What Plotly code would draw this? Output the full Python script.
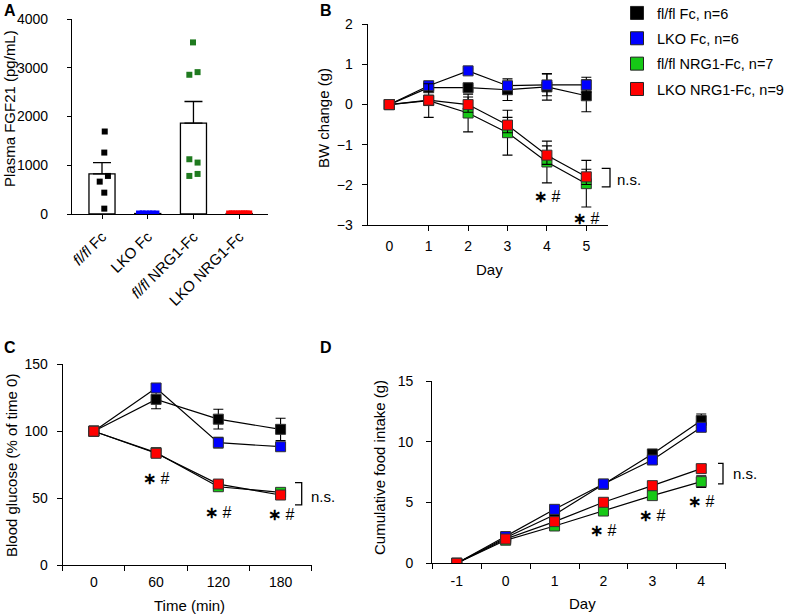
import plotly.graph_objects as go

W, H = 791, 615
FONT = "Liberation Sans, Arial, sans-serif"

# ---------------- Panel A data ----------------
a_groups = ["<i>fl/fl</i> Fc", "LKO Fc", "<i>fl/fl</i> NRG1-Fc", "LKO NRG1-Fc"]
a_means = [822, 10, 1863, 10]
a_sem = [233, 0, 445, 0]
a_flfl_fc = [1692, 1260, 781, 664, 438, 110]
a_lko_fc = [10, 12, 8, 11, 9, 10]
a_flfl_nrg = [3520, 2910, 2856, 1123, 1055, 822, 781]
a_lko_nrg = [10, 12, 8, 11, 9, 10, 12, 9, 11]
# horizontal scatter offsets of the dots (category units)
a_off_flfl_fc = [0.06, 0.05, 0.13, -0.05, 0.05, 0.05]
a_off_lko_fc = [-0.19, -0.11, -0.04, 0.04, 0.11, 0.19]
a_off_flfl_nrg = [-0.01, 0.09, -0.09, -0.09, 0.09, 0.09, -0.09]
a_off_lko_nrg = [-0.22, -0.165, -0.11, -0.055, 0.0, 0.055, 0.11, 0.165, 0.22]

# ---------------- Panel B data ----------------
b_days = [0, 1, 2, 3, 4, 5]
b_flfl_fc = [0, 0.42, 0.42, 0.37, 0.44, 0.22]
b_flfl_fc_err = [0, 0.05, 0.05, 0.27, 0.33, 0.40]
b_lko_fc = [0, 0.47, 0.84, 0.47, 0.49, 0.49]
b_lko_fc_err = [0, 0.05, 0.05, 0.10, 0.27, 0.19]
b_flfl_nrg = [0, 0.10, -0.21, -0.70, -1.43, -1.97]
b_flfl_nrg_err = [0, 0.42, 0.47, 0.56, 0.52, 0.58]
b_lko_nrg = [0, 0.11, 0.0, -0.51, -1.26, -1.80]
b_lko_nrg_err = [0, 0.12, 0.19, 0.19, 0.23, 0.19]

# ---------------- Panel C data ----------------
c_time = ["0", "60", "120", "180"]
c_flfl_fc = [100, 123.8, 109, 101.4]
c_flfl_fc_err = [0, 7, 7.4, 8.3]
c_lko_fc = [100, 132.3, 91.4, 88.4]
c_lko_fc_err = [0, 3, 4, 2]
c_flfl_nrg = [100, 84, 58.5, 54.3]
c_flfl_nrg_err = [0, 2, 2.5, 2]
c_lko_nrg = [100, 83.5, 60.5, 52.3]
c_lko_nrg_err = [0, 2.5, 2.5, 2]

# ---------------- Panel D data ----------------
d_day = ["-1", "0", "1", "2", "3", "4"]
d_flfl_fc = [0, 2.1, 4.0, 6.5, 9.0, 11.74]
d_flfl_fc_err = [0, 0.2, 0.2, 0.2, 0.3, 0.55]
d_lko_fc = [0, 2.2, 4.44, 6.53, 8.5, 11.19]
d_lko_fc_err = [0, 0.2, 0.2, 0.2, 0.3, 0.3]
d_flfl_nrg = [0, 1.9, 3.07, 4.3, 5.57, 6.72]
d_flfl_nrg_err = [0, 0.1, 0.2, 0.2, 0.3, 0.47]
d_lko_nrg = [0, 2.0, 3.43, 5.02, 6.39, 7.79]
d_lko_nrg_err = [0, 0.1, 0.2, 0.2, 0.3, 0.3]

legend_names = ["fl/fl Fc, n=6", "LKO Fc, n=6", "fl/fl NRG1-Fc, n=7", "LKO NRG1-Fc, n=9"]
colors = ["#000000", "#0000ff", "#16c816", "#ff0000"]
a_colors = ["#000000", "#0000ff", "#1f7a1f", "#ff0000"]


def px_x(p):
    return p / W


def px_y(p):
    return 1 - p / H


fig = go.Figure()

# ---- Panel A ----
idx = list(range(len(a_groups)))
fig.add_trace(go.Bar(
    x=idx, y=a_means, width=0.57,
    marker=dict(color="white", line=dict(color="black", width=1.3)),
    error_y=dict(type="data", array=a_sem, arrayminus=[0] * 4, symmetric=False,
                 color="black", thickness=1.3, width=9),
    xaxis="x", yaxis="y", showlegend=False))
a_sets = [(a_flfl_fc, a_off_flfl_fc), (a_lko_fc, a_off_lko_fc),
          (a_flfl_nrg, a_off_flfl_nrg), (a_lko_nrg, a_off_lko_nrg)]
for i, (vals, offs) in enumerate(a_sets):
    fig.add_trace(go.Scatter(
        x=[i + o for o in offs], y=vals, mode="markers",
        marker=dict(symbol="square", size=6, color=a_colors[i]),
        xaxis="x", yaxis="y", showlegend=False))

# ---- Line panels ----
def add_panel(xs, series, errs, xa, ya):
    for s, e, c in zip(series, errs, colors):
        fig.add_trace(go.Scatter(
            x=xs, y=s, mode="lines+markers",
            line=dict(color="black", width=1.2),
            marker=dict(symbol="square", size=10, color=c, line=dict(color="#333333", width=1)),
            error_y=dict(type="data", array=e, color="black", thickness=1.1, width=5),
            xaxis=xa, yaxis=ya, showlegend=False))


add_panel(b_days, [b_flfl_fc, b_lko_fc, b_flfl_nrg, b_lko_nrg],
          [b_flfl_fc_err, b_lko_fc_err, b_flfl_nrg_err, b_lko_nrg_err], "x2", "y2")
add_panel(c_time, [c_flfl_fc, c_lko_fc, c_flfl_nrg, c_lko_nrg],
          [c_flfl_fc_err, c_lko_fc_err, c_flfl_nrg_err, c_lko_nrg_err], "x3", "y3")
add_panel(d_day, [d_flfl_fc, d_lko_fc, d_flfl_nrg, d_lko_nrg],
          [d_flfl_fc_err, d_lko_fc_err, d_flfl_nrg_err, d_lko_nrg_err], "x4", "y4")

# legend entries
for name, c in zip(legend_names, colors):
    fig.add_trace(go.Scatter(
        x=[None], y=[None], mode="markers", name=name, legendgroup=name,
        marker=dict(symbol="square", size=13, color=c, line=dict(color="#222222", width=1)),
        xaxis="x5", yaxis="y2"))

tickfont = dict(family=FONT, size=14, color="black")
axis_common = dict(showline=True, linecolor="black", linewidth=1.2, showgrid=False,
                   zeroline=False, ticks="outside", tickcolor="black", ticklen=5,
                   tickwidth=1.2, tickfont=tickfont, automargin=False)

fig.update_layout(
    width=W, height=H, margin=dict(l=0, r=0, t=0, b=0, autoexpand=False),
    paper_bgcolor="white", plot_bgcolor="white",
    font=dict(family=FONT, color="black", size=14),
    showlegend=True,
    legend=dict(x=px_x(617), y=1 + 3 / H, xanchor="left", yanchor="top",
                font=dict(family=FONT, size=14.5, color="black"),
                bgcolor="rgba(0,0,0,0)", traceorder="grouped", tracegroupgap=3.5,
                itemsizing="trace"),
    xaxis=dict(axis_common, domain=[px_x(72), px_x(268)], range=[-0.656, 3.63],
               tickvals=idx, ticktext=a_groups, tickangle=-45, ticklen=4,
               tickfont=dict(family=FONT, size=15, color="black"),
               ticklabelstandoff=3, anchor="y"),
    yaxis=dict(axis_common, domain=[px_y(214), px_y(19)], range=[0, 4000],
               tickvals=[0, 1000, 2000, 3000, 4000], ticklen=4, anchor="x",
               ticklabelstandoff=16,
               tickfont=dict(family=FONT, size=14, color="black")),
    xaxis2=dict(axis_common, domain=[px_x(367.6), px_x(608)], range=[-0.55, 5.55],
                tickvals=b_days, ticks="", ticklabelstandoff=8, anchor="y2"),
    xaxis5=dict(domain=[px_x(367.6), px_x(608)], range=[-0.55, 5.55], overlaying="x2",
                anchor="y2", tickvals=b_days[1:], ticks="outside", ticklen=5,
                tickwidth=1.2, tickcolor="black", showticklabels=False, automargin=False,
                showline=False, showgrid=False, zeroline=False),
    yaxis2=dict(axis_common, domain=[px_y(225), px_y(24.3)], range=[-3, 2],
                tickvals=[-3, -2, -1, 0, 1, 2], ticklabelstandoff=6, anchor="x2"),
    xaxis3=dict(axis_common, domain=[px_x(62.7), px_x(311.7)], type="category",
                categoryorder="array", categoryarray=c_time, tickson="boundaries",
                range=[-0.5, 3.5], ticklabelstandoff=4, anchor="y3"),
    yaxis3=dict(axis_common, domain=[px_y(565), px_y(364.3)], range=[0, 150],
                tickvals=[0, 50, 100, 150], ticklabelstandoff=6, anchor="x3"),
    xaxis4=dict(axis_common, domain=[px_x(432.3), px_x(725.7)], type="category",
                categoryorder="array", categoryarray=d_day, tickson="boundaries",
                range=[-0.5, 5.5], ticklabelstandoff=5, anchor="y4"),
    yaxis4=dict(axis_common, domain=[px_y(563.3), px_y(381)], range=[0, 15],
                tickvals=[0, 5, 10, 15], ticklabelstandoff=10, anchor="x4"),
)

ann = []
# panel letters
for letter, x, y in [("A", 10, 0), ("B", 326, 0), ("C", 10, 337), ("D", 326, 337)]:
    ann.append(dict(text="<b>%s</b>" % letter, x=px_x(x), y=px_y(y), xref="paper", yref="paper",
                    showarrow=False, font=dict(family=FONT, size=16, color="black"),
                    xanchor="center", yanchor="top"))
# axis titles
titles = [
    ("Plasma FGF21 (pg/mL)", 9, 109, -90),
    ("BW change (g)", 323, 118, -90),
    ("Day", 489, 270, 0),
    ("Blood glucose (% of time 0)", 11, 466, -90),
    ("Time (min)", 189.5, 605, 0),
    ("Cumulative food intake (g)", 379, 468, -90),
    ("Day", 582, 603, 0),
]
for t, x, y, ang in titles:
    ann.append(dict(text=t, x=px_x(x), y=px_y(y), xref="paper", yref="paper", showarrow=False,
                    textangle=ang, font=dict(family=FONT, size=15, color="black"),
                    xanchor="center", yanchor="middle"))

star = "<b>\u2217</b> #"
# significance markers: (xref, yref, x, y)
for xr, yr, x, y in [("x2", "y2", 4, -2.3), ("x2", "y2", 5, -2.85),
                     ("x3", "y3", 1, 64.8), ("x3", "y3", 2, 39), ("x3", "y3", 3, 37.4),
                     ("x4", "y4", 3, 2.66), ("x4", "y4", 4, 3.9), ("x4", "y4", 5, 5.07)]:
    ann.append(dict(text=star, x=x, y=y, xref=xr, yref=yr, showarrow=False,
                    font=dict(family=FONT, size=16, color="black"),
                    xanchor="center", yanchor="middle"))
# n.s. labels
for yr, x, y in [("y2", 628.7, -1.87), ("y3", 322.5, 51), ("y4", 745, 7.4)]:
    ann.append(dict(text="n.s.", x=px_x(x), y=y, xref="paper", yref=yr, showarrow=False,
                    font=dict(family=FONT, size=15, color="black"),
                    xanchor="center", yanchor="middle"))
fig.update_layout(annotations=ann)

shapes = []
for yr, x1, x2, yt, yb in [("y2", 601.7, 610, -1.59, -2.05), ("y3", 295, 301.7, 61.5, 45),
                           ("y4", 718, 723, 8.23, 6.53)]:
    path = "M %f,%f L %f,%f L %f,%f L %f,%f" % (px_x(x1), yt, px_x(x2), yt, px_x(x2), yb, px_x(x1), yb)
    shapes.append(dict(type="path", path=path, xref="paper", yref=yr,
                       line=dict(color="black", width=1.3)))
fig.update_layout(shapes=shapes)

fig.write_html("out.html", config={"displayModeBar": False},
               post_script="document.body.style.margin='0';")
